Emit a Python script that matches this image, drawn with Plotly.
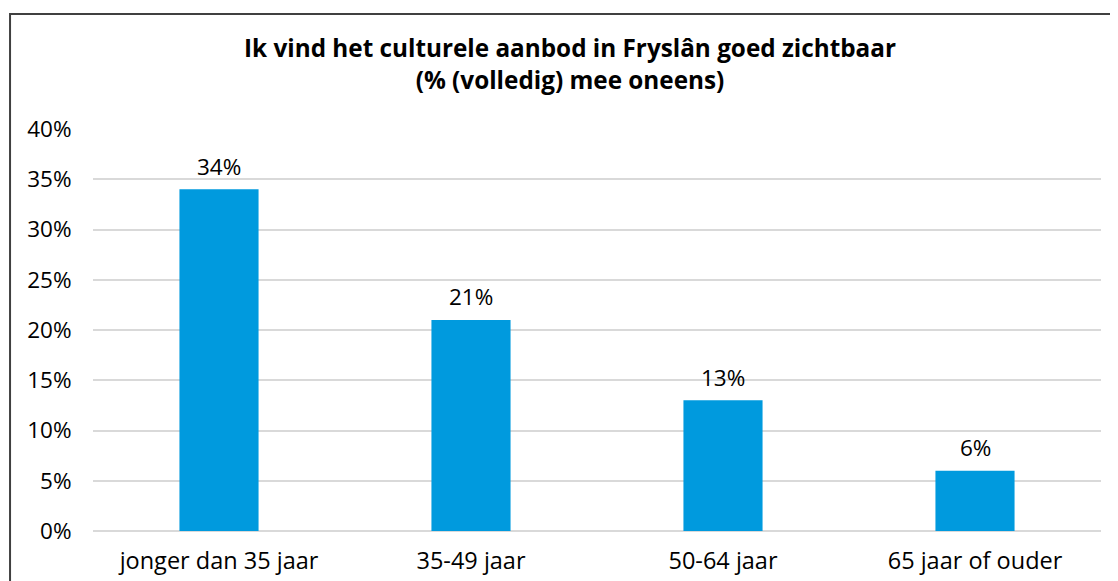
import plotly.graph_objects as go

categories = ["jonger dan 35 jaar", "35-49 jaar", "50-64 jaar", "65 jaar of ouder"]
values = [34, 21, 13, 6]
labels = ["34%", "21%", "13%", "6%"]
tick_vals = [0, 5, 10, 15, 20, 25, 30, 35, 40]
tick_text = ["0%", "5%", "10%", "15%", "20%", "25%", "30%", "35%", "40%"]

FONT = "Open Sans"

fig = go.Figure()
fig.add_trace(go.Bar(
    x=categories, y=values,
    marker=dict(color="#009ADE", line=dict(width=0)),
    width=0.314, cliponaxis=False,
))

for cat, val, lab in zip(categories, values, labels):
    fig.add_annotation(
        x=cat, y=val, text=lab, showarrow=False,
        xanchor="center", yanchor="middle", yshift=23,
        font=dict(family=FONT, size=22.5, color="#000000"),
    )

fig.update_layout(
    width=1118, height=581,
    margin=dict(l=85, r=25, t=120, b=58, autoexpand=False),
    paper_bgcolor="white", plot_bgcolor="white",
    showlegend=False,
    title=dict(
        text="<b>Ik vind het culturele aanbod in Fryslân goed zichtbaar<br>(% (volledig) mee oneens)</b>",
        x=0.5027, xanchor="center", y=0.915, yanchor="middle",
        font=dict(family=FONT, size=24.3, color="#000000"),
    ),
    font=dict(family=FONT, size=22, color="#000000"),
)
fig.update_xaxes(
    showgrid=False, showline=False, zeroline=False, automargin=False,
    ticks="outside", ticklen=9, tickcolor="rgba(0,0,0,0)",
    tickfont=dict(family=FONT, size=23.5, color="#000000"),
)
fig.update_yaxes(
    range=[0, 40.1], tickvals=tick_vals, ticktext=tick_text, automargin=False,
    showgrid=True, gridcolor="#d9d9d9", gridwidth=2,
    zeroline=True, zerolinecolor="#d9d9d9", zerolinewidth=2,
    showline=False,
    ticks="outside", ticklen=16, tickcolor="rgba(0,0,0,0)",
    tickfont=dict(family=FONT, size=22.5, color="#000000"),
)
fig.add_shape(
    type="rect", xref="paper", yref="paper",
    x0=-0.0823, x1=1.016, y0=-0.3, y1=1.283,
    line=dict(color="#404040", width=2), fillcolor="rgba(0,0,0,0)",
    layer="above",
)
fig.write_html("out.html")
